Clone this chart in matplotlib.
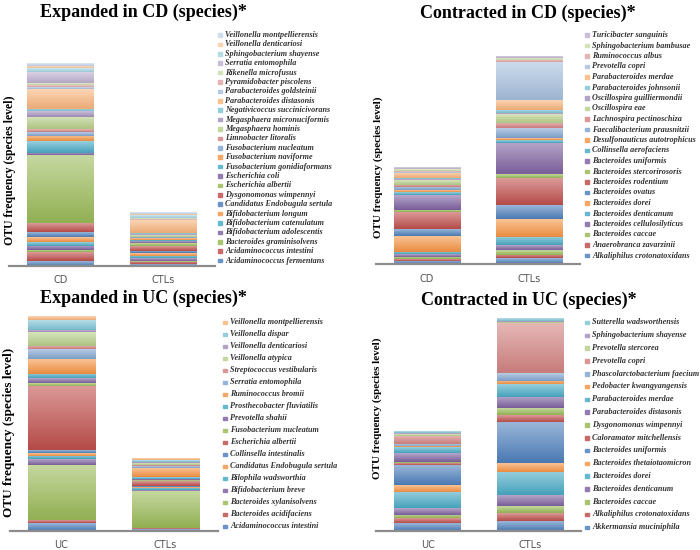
import numpy as np
import matplotlib
matplotlib.use("Agg")
import matplotlib.pyplot as plt
from matplotlib.colors import to_rgb
from matplotlib.patches import Rectangle

# ---- data (OTU frequency, stacked bottom -> top) ----
exp_cd_cats = ["CD", "CTLs"]
exp_cd_species = [
    "Acidaminococcus fermentans", "Acidaminococcus intestini", "Bacteroides graminisolvens",
    "Bifidobacterium adolescentis", "Bifidobacterium catenulatum", "Bifidobacterium longum",
    "Candidatus Endobugula sertula", "Dysgonomonas wimpennyi", "Escherichia albertii",
    "Escherichia coli", "Fusobacterium gonidiaformans", "Fusobacterium naviforme",
    "Fusobacterium nucleatum", "Limnobacter litoralis", "Megasphaera hominis",
    "Megasphaera micronuciformis", "Negativicoccus succinicivorans", "Parabacteroides distasonis",
    "Parabacteroides goldsteinii", "Pyramidobacter piscolens", "Rikenella microfusus",
    "Serratia entomophila", "Sphingobacterium shayense", "Veillonella denticariosi",
    "Veillonella montpellierensis",
]
exp_cd_cd = [4.7, 8.7, 2.3, 4.3, 4.0, 5.0, 4.3, 9.0, 68.0, 2.7, 11.3, 5.3, 4.0, 2.7,
             12.3, 5.7, 2.7, 20.0, 2.0, 2.0, 2.0, 11.0, 3.3, 2.7, 2.7]
exp_cd_ctl = [1.7, 2.3, 1.0, 2.7, 2.3, 2.3, 2.7, 5.0, 2.7, 1.5, 1.8, 1.2, 1.3, 0.6,
              2.0, 0.6, 1.3, 12.3, 0.5, 0.5, 1.0, 0.7, 2.2, 1.5, 1.7]

con_cd_cats = ["CD", "CTLs"]
con_cd_species = [
    "Alkaliphilus crotonatoxidans", "Anaerobranca zavarzinii", "Bacteroides caccae",
    "Bacteroides cellulosilyticus", "Bacteroides denticanum", "Bacteroides dorei",
    "Bacteroides ovatus", "Bacteroides rodentium", "Bacteroides stercorirosoris",
    "Bacteroides uniformis", "Collinsella aerofaciens", "Desulfonauticus autotrophicus",
    "Faecalibacterium prausnitzii", "Lachnospira pectinoschiza", "Oscillospira eae",
    "Oscillospira guilliermondii", "Parabacteroides johnsonii", "Parabacteroides merdae",
    "Prevotella copri", "Ruminococcus albus", "Sphingobacterium bambusae",
    "Turicibacter sanguinis",
]
con_cd_cd = [3.7, 1.3, 2.7, 2.3, 2.7, 15.7, 6.7, 16.7, 2.7, 15.0, 3.0, 1.3, 3.3,
             2.3, 5.0, 0.6, 1.1, 5.7, 1.0, 1.0, 1.3, 2.0]
con_cd_ctl = [6.0, 3.3, 5.0, 5.0, 8.3, 17.7, 14.0, 27.0, 4.0, 31.3, 2.7, 1.7, 10.0,
              5.7, 9.0, 0.7, 3.3, 10.0, 37.7, 2.3, 2.0, 2.0]

exp_uc_cats = ["UC", "CTLs"]
exp_uc_species = [
    "Acidaminococcus intestini", "Bacteroides acidifaciens", "Bacteroides xylanisolvens",
    "Bifidobacterium breve", "Bilophila wadsworthia", "Candidatus Endobugula sertula",
    "Collinsella intestinalis", "Escherichia albertii", "Fusobacterium nucleatum",
    "Prevotella shahii", "Prosthecobacter fluviatilis", "Ruminococcus bromii",
    "Serratia entomophila", "Streptococcus vestibularis", "Veillonella atypica",
    "Veillonella denticariosi", "Veillonella dispar", "Veillonella montpellierensis",
]
exp_uc_uc = [7.7, 2.7, 55.7, 5.7, 3.3, 2.7, 2.7, 64.7, 2.7, 5.0, 4.3, 14.7, 10.0,
             3.3, 13.3, 2.7, 9.3, 3.3]
exp_uc_ctl = [2.0, 0.7, 37.0, 0.7, 2.3, 1.0, 1.3, 4.3, 1.0, 1.3, 2.0, 9.0, 1.7,
              1.7, 1.7, 1.3, 1.3, 1.3]

con_uc_cats = ["UC", "CTLs"]
con_uc_species = [
    "Akkermansia muciniphila", "Alkaliphilus crotonatoxidans", "Bacteroides caccae",
    "Bacteroides denticanum", "Bacteroides dorei", "Bacteroides thetaiotaomicron",
    "Bacteroides uniformis", "Caloramator mitchellensis", "Dysgonomonas wimpennyi",
    "Parabacteroides distasonis", "Parabacteroides merdae", "Pedobacter kwangyangensis",
    "Phascolarctobacterium faecium", "Prevotella copri", "Prevotella stercorea",
    "Sphingobacterium shayense", "Sutterella wadsworthensis",
]
con_uc_uc = [7.3, 5.0, 3.3, 6.7, 16.7, 6.7, 20.0, 2.0, 1.3, 8.3, 6.0, 1.7, 1.3,
             8.7, 1.3, 1.0, 1.7]
con_uc_ctl = [10.0, 8.0, 7.0, 10.7, 23.3, 9.0, 41.0, 6.7, 6.7, 11.7, 12.7, 3.3, 7.3,
              50.0, 1.3, 1.3, 3.0]

# ---- style ----
W, H = 700, 550
BASE = ["#4F81BD", "#C0504D", "#9BBB59", "#8064A2", "#4BACC6", "#F79646"]
TINT = [0.0, 0.0, 0.3, 0.5, 0.68]
SERIF = "Liberation Serif"


def series_color(i):
    c = np.array(to_rgb(BASE[i % 6]))
    t = TINT[min(i // 6, len(TINT) - 1)]
    return c + (1 - c) * t


def gradient(c, n=32):
    top = c + (1 - c) * 0.42
    bottom = c * 0.94
    f = np.linspace(0, 1, n)[:, None]
    return (bottom + (top - bottom) * f)[:, None, :]


fig = plt.figure(figsize=(W / 100, H / 100), dpi=100)
overlay = fig.add_axes([0, 0, 1, 1], zorder=5)
overlay.set_xlim(0, W)
overlay.set_ylim(H, 0)
overlay.axis("off")
overlay.patch.set_alpha(0)

panels = [
    dict(title="Expanded in CD (species)*", cats=exp_cd_cats, species=exp_cd_species,
         vals=(exp_cd_cd, exp_cd_ctl), left=9, base=265.7, width=206,
         title_xy=(143, 12), ylab_xy=(10, 170), ylab_size=8.5,
         leg_x=220, leg_top=35, leg_pitch=9.4),
    dict(title="Contracted in CD (species)*", cats=con_cd_cats, species=con_cd_species,
         vals=(con_cd_cd, con_cd_ctl), left=376, base=264.3, width=204,
         title_xy=(528, 13), ylab_xy=(378, 167), ylab_size=8,
         leg_x=587, leg_top=35, leg_pitch=10.5),
    dict(title="Expanded in UC (species)*", cats=exp_uc_cats, species=exp_uc_species,
         vals=(exp_uc_uc, exp_uc_ctl), left=9.5, base=530.7, width=208,
         title_xy=(143, 298), ylab_xy=(9, 432), ylab_size=9.5,
         leg_x=225, leg_top=322.5, leg_pitch=12.0),
    dict(title="Contracted in UC (species)*", cats=con_uc_cats, species=con_uc_species,
         vals=(con_uc_uc, con_uc_ctl), left=376.4, base=530.7, width=205,
         title_xy=(529, 300), ylab_xy=(377, 408), ylab_size=8,
         leg_x=587, leg_top=322.5, leg_pitch=12.8),
]

AX_H = 240  # axes height in px, y units == px

for p in panels:
    ax = fig.add_axes([p["left"] / W, (H - p["base"]) / H, p["width"] / W, AX_H / H])
    ax.patch.set_alpha(0)
    x = np.arange(len(p["cats"]))
    data = np.array(p["vals"])  # (2, n_species)
    bottoms = np.zeros(len(x))
    for i in range(data.shape[1]):
        c = series_color(i)
        bars = ax.bar(x, data[:, i], 0.65, bottom=bottoms, color=c, linewidth=0, zorder=1)
        for r in bars.patches:
            x0, y0 = r.get_xy()
            ax.imshow(gradient(c), extent=(x0, x0 + r.get_width(), y0, y0 + r.get_height()),
                      origin="lower", aspect="auto", interpolation="bilinear", zorder=2)
        bottoms += data[:, i]
    ax.set_xlim(-0.5, 1.5)
    ax.set_ylim(0, AX_H)
    for s in ("top", "right", "left"):
        ax.spines[s].set_visible(False)
    ax.spines["bottom"].set_color("#8c8c8c")
    ax.spines["bottom"].set_linewidth(1.6)
    ax.set_yticks([])
    ax.set_xticks(x)
    ax.set_xticklabels(p["cats"], fontsize=7, color="#555555", family="DejaVu Sans")
    ax.tick_params(axis="x", length=0, pad=7)

    overlay.text(*p["title_xy"], p["title"], ha="center", va="center",
                 family=SERIF, weight="bold", fontsize=13)
    overlay.text(*p["ylab_xy"], "OTU frequency (species level)", ha="center", va="center",
                 rotation=90, family=SERIF, weight="bold", fontsize=p["ylab_size"])

    for j, name in enumerate(reversed(p["species"])):
        idx = len(p["species"]) - 1 - j
        y = p["leg_top"] + j * p["leg_pitch"]
        mc = series_color(idx)
        overlay.add_patch(Rectangle((p["leg_x"] - 1.8, y - 1.8), 3.6, 3.6,
                                    color=mc + (1 - mc) * 0.15))
        overlay.text(p["leg_x"] + 5, y, name, ha="left", va="center", family=SERIF,
                     style="italic", weight="bold", fontsize=5.9, color="#333333")

fig.savefig("out.png", dpi=100)
